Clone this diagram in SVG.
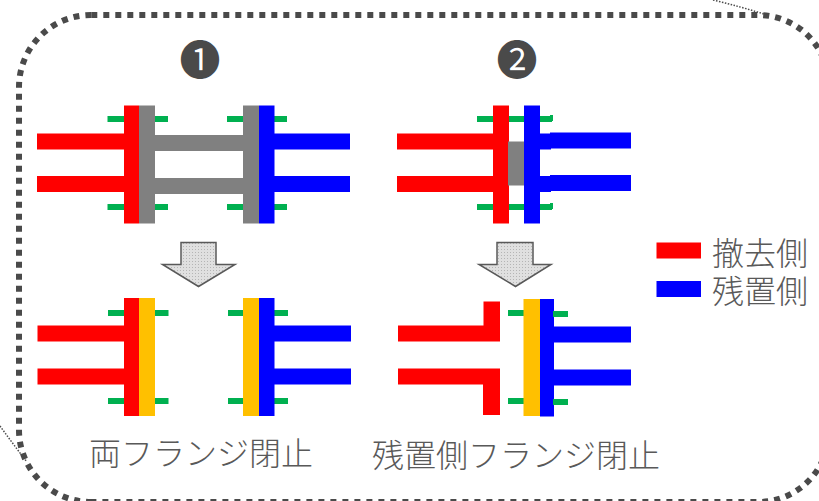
<svg xmlns="http://www.w3.org/2000/svg" width="819" height="501" viewBox="0 0 819 501">
<style>
.r{fill:#ff0000}.b{fill:#0000ff}.g{fill:#808080}.n{fill:#00b050}.y{fill:#ffc000}
.t{font-family:"Noto Sans CJK JP","Noto Sans",sans-serif;font-size:32px;font-weight:300;fill:#595959}
.num{font-family:"Noto Sans CJK JP","DejaVu Sans",sans-serif;font-size:41px;fill:#4a4a4a;text-anchor:middle}
.frame{fill:none;stroke:#4a4a4a;stroke-width:6;stroke-dasharray:6 6}
.thin{fill:none;stroke:#4a4a4a;stroke-width:1.5;stroke-dasharray:1.5 1.5}
.arrow{fill:url(#dots);stroke:#595959;stroke-width:1.5}
</style>
<defs>
<pattern id="dots" width="3" height="3" patternUnits="userSpaceOnUse">
<rect width="3" height="3" fill="#e0e0e0"/><rect width="1" height="1" fill="#b5b5b5"/>
</pattern>
</defs>
<rect width="819" height="501" fill="#ffffff"/>
<g id="frame">
<path class="frame" d="M91.3,15 H758 A71,71 0 0 1 829,86 V431 A71,71 0 0 1 758,502 H90"/>
<path class="frame" d="M91.3,15 A72,72 0 0 0 19,87 V430 A72,72 0 0 0 91,502 H94"/>
<path class="thin" d="M713,0 Q742,7 767,15"/>
<path class="thin" d="M0,426 Q13,444 27,462"/>
</g>
<g id="badge-1"><text class="num" x="200" y="75">❶</text></g>
<g id="badge-2"><text class="num" x="517" y="75">❷</text></g>
<g id="assembly-1-before">
<rect class="n" x="107.5" y="116" width="60.5" height="6"/><rect class="n" x="107.5" y="204" width="60.5" height="6"/>
<rect class="n" x="227" y="116" width="60" height="6"/><rect class="n" x="227" y="204" width="60" height="6"/>
<rect class="r" x="37" y="133.5" width="88" height="16"/><rect class="r" x="37" y="176" width="88" height="16"/>
<rect class="r" x="124" y="105.5" width="15" height="118"/>
<rect class="g" x="139" y="105.5" width="16" height="118"/>
<rect class="g" x="155" y="135" width="88" height="16"/><rect class="g" x="155" y="178" width="88" height="16"/>
<rect class="g" x="243" y="105.5" width="16" height="118"/>
<rect class="b" x="259" y="105.5" width="15.5" height="118"/>
<rect class="b" x="274" y="133.5" width="76" height="16"/><rect class="b" x="274" y="176" width="76" height="16"/>
</g>
<g id="assembly-2-before">
<rect class="n" x="477" y="116" width="75" height="6"/><rect class="n" x="550" y="115" width="3" height="6"/>
<rect class="n" x="477" y="204" width="75" height="6"/><rect class="n" x="550" y="203" width="3" height="6"/>
<rect class="r" x="397" y="133.5" width="97" height="16"/><rect class="r" x="397" y="176" width="97" height="16"/>
<rect class="r" x="493" y="105.5" width="16" height="118"/>
<rect class="g" x="508" y="141.5" width="16" height="44"/>
<rect class="b" x="524" y="105.5" width="16" height="118"/>
<rect class="b" x="539" y="133.5" width="12" height="16"/><rect class="b" x="539" y="176" width="12" height="16"/>
<rect class="b" x="550" y="132.5" width="81" height="16"/><rect class="b" x="550" y="175" width="81" height="16"/>
</g>
<g id="arrow-1"><path class="arrow" d="M181,242.5 H216 V264.5 H235 L198.5,286.5 L162.5,264.5 H181 Z"/></g>
<g id="arrow-2"><path class="arrow" d="M497,242.5 H533 V264.5 H551 L515.5,286.5 L479,264.5 H497 Z"/></g>
<g id="assembly-1-after">
<rect class="n" x="108" y="310" width="60.5" height="6"/><rect class="n" x="108" y="398" width="60.5" height="6"/>
<rect class="n" x="228" y="310" width="60" height="6"/><rect class="n" x="228" y="398" width="60" height="6"/>
<rect class="r" x="37.5" y="325.5" width="87" height="16"/><rect class="r" x="37.5" y="368.5" width="87" height="16"/>
<rect class="r" x="124" y="298" width="15" height="118"/>
<rect class="y" x="139" y="298" width="16" height="118"/>
<rect class="y" x="243" y="298" width="16" height="118"/>
<rect class="b" x="259" y="298" width="15.5" height="118"/>
<rect class="b" x="274" y="325.5" width="77" height="16"/><rect class="b" x="274" y="368.5" width="77" height="16"/>
</g>
<g id="assembly-2-after">
<path class="r" d="M398,325.5 H483.5 V301.5 H500 V341.5 H398 Z"/>
<path class="r" d="M398,368.5 H500 V415 H483 V384.5 H398 Z"/>
<rect class="n" x="508" y="310" width="16" height="6"/><rect class="n" x="508" y="398" width="16" height="6"/>
<rect class="y" x="523.5" y="299" width="16.5" height="117"/>
<rect class="b" x="540" y="299" width="14" height="117.5"/>
<rect class="n" x="553" y="311" width="15" height="6"/><rect class="n" x="553" y="399" width="15" height="6"/>
<rect class="b" x="553" y="326.5" width="78" height="16"/><rect class="b" x="553" y="369.5" width="78" height="16"/>
</g>
<g id="legend-removed"><rect class="r" x="656.5" y="242.5" width="44.5" height="16"/><text class="t" x="712" y="265">撤去側</text></g>
<g id="legend-kept"><rect class="b" x="656.5" y="281" width="44.5" height="16"/><text class="t" x="712" y="303">残置側</text></g>
<g id="caption-1"><text class="t" x="89" y="465">両フランジ閉止</text></g>
<g id="caption-2"><text class="t" x="372" y="467">残置側フランジ閉止</text></g>
</svg>
